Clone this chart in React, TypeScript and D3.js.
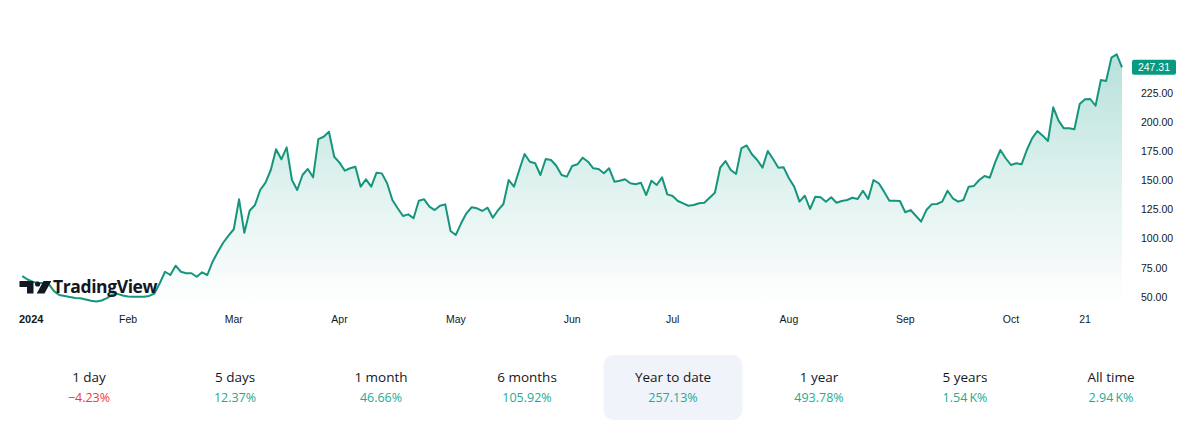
import React from "react";
import * as d3 from "d3";

// Daily closes (trading days)
const jan = [68, 65, 63, 62, 62, 61, 55, 51.7, 50.9, 50, 49.1, 48.9, 47.9, 46.7, 46.1, 47, 49.1, 52.1, 52.7, 51.3];
const feb = [50.4, 50.3, 50.3, 50.3, 50.9, 53, 61.8, 71.7, 68.9, 76.9, 71.7, 70.4, 70.4, 67.4, 71.2, 68.9, 80.3, 88.9, 96.6, 102.7];
const mar = [108.2, 133.9, 105.2, 124.1, 129, 141.9, 148.2, 159.1, 176.9, 168.3, 178.6, 150.5, 141.9, 154.8, 160, 152.8, 185.7, 187.7, 192, 170.5];
const apr = [165.4, 158.5, 160.6, 161.9, 144.8, 151.1, 144.8, 156.8, 156.2, 147.7, 133.3, 126.2, 119.6, 121, 117.6, 132.7, 133.9, 127.6, 124.7, 128.4, 129.6, 106.7];
const may = [103.3, 113.3, 121.9, 127.1, 126.2, 123.9, 126.7, 118.1, 124.7, 129.9, 150.5, 144.8, 159.1, 172.9, 166.2, 164.9, 154.8, 168.6, 167.7, 162.8, 154.8, 153.4];
const jun = [162.5, 164, 169.7, 166.2, 160.6, 160, 156.3, 160.6, 149.1, 149.9, 151.1, 147.7, 146.8, 148.2, 137.6, 149.9, 146.2, 152.8, 138.2];
const jul = [136.8, 132.5, 130.5, 128.4, 129, 130.5, 131, 135.3, 139.6, 161.1, 166.8, 159.1, 155.7, 177.7, 180.2, 172.6, 167.7, 161.1, 175.4, 168.6, 161.1, 161.4];
const aug = [152, 144.8, 131.9, 137, 125.6, 136.2, 135.7, 131.9, 135.7, 131, 132.5, 133.3, 135.3, 134.2, 141.3, 134.2, 150.5, 147.7, 140.5, 132.7, 132.7, 132.5];
const sep = [122.8, 124.7, 119.8, 114.7, 124.7, 129.6, 129.9, 131.9, 141.3, 134.8, 131.9, 133.3, 144.8, 145.4, 150.5, 154, 152.5, 165.7, 176.3, 169.2];
const oct = [163.4, 164.9, 164, 176.3, 186.3, 192.6, 188.6, 184, 213, 201.5, 194.9, 194.9, 194.1, 215.8, 219.8, 220.1, 214.3, 236.4, 235.6, 255.6, 258.5, 247.31];

const closes = [...jan, ...feb, ...mar, ...apr, ...may, ...jun, ...jul, ...aug, ...sep, ...oct];
const lastPrice = 247.31;

// X axis labels and the trading-day index they sit on
const xTickLabels = ["2024", "Feb", "Mar", "Apr", "May", "Jun", "Jul", "Aug", "Sep", "Oct", "21"];
const xTickIndex = [0, 20, 40, 60, 82, 104, 123, 145, 167, 187, 201];

// Price axis ticks
const yTicks = [50, 75, 100, 125, 150, 175, 200, 225];

// Performance panel
const perfLabels = ["1 day", "5 days", "1 month", "6 months", "Year to date", "1 year", "5 years", "All time"];
const perfValues = ["\u22124.23%", "12.37%", "46.66%", "105.92%", "257.13%", "493.78%", "1.54\u2009K%", "2.94\u2009K%"];
const perfPositive = [false, true, true, true, true, true, true, true];
const perfSelected = 4;

const W = 1200;
const H = 435;
const FONT = "'Liberation Sans', Arial, sans-serif";
const UI_FONT = "'Open Sans', 'Noto Sans', sans-serif";
const LINE = "#16957d";
const GREEN_TXT = "#22ab94";
const RED_TXT = "#f23645";
const BADGE = "#089981";
const TEXT = "#131722";

export default function App() {
  const x = d3.scaleLinear().domain([0, closes.length - 1]).range([22.3, 1122]);
  const y = d3.scaleLinear().domain([50, 225]).range([297, 93.3]);
  const baseY = 307;

  const line = d3
    .line<number>()
    .x((_, i) => x(i))
    .y((d) => y(d));
  const area = d3
    .area<number>()
    .x((_, i) => x(i))
    .y0(baseY)
    .y1((d) => y(d));

  const band = d3.scaleBand<string>().domain(perfLabels).range([16, 1184]);
  const fmt = d3.format(".2f");

  return (
    <svg
      width={W}
      height={H}
      viewBox={`0 0 ${W} ${H}`}
      style={{ position: "absolute", left: 0, top: 0, background: "#fff" }}
    >
      <defs>
        <linearGradient id="fillGrad" gradientUnits="userSpaceOnUse" x1="0" y1="50" x2="0" y2={baseY}>
          <stop offset="0" stopColor="#089981" stopOpacity={0.3} />
          <stop offset="0.55" stopColor="#089981" stopOpacity={0.12} />
          <stop offset="1" stopColor="#089981" stopOpacity={0.0} />
        </linearGradient>
      </defs>
      <rect x={0} y={0} width={W} height={H} fill="#fff" />

      <path d={area(closes) || ""} fill="url(#fillGrad)" />
      <path d={line(closes) || ""} fill="none" stroke={LINE} strokeWidth={2} strokeLinejoin="round" />

      {/* TradingView watermark */}
      <g fill={TEXT}>
        <path d="M19.5,281 h14 v12.5 h-6.5 v-6.5 h-7.5 z" />
        <circle cx={37.6} cy={284} r={2.6} />
        <path d="M43.5,281 h7.8 l-6.8,12.5 h-7.8 z" />
        <text x={53} y={292.8} fontFamily="'Open Sans', sans-serif" fontWeight={700} fontSize={17.5} letterSpacing={-0.4}>
          TradingView
        </text>
      </g>

      {/* Price axis */}
      {yTicks.map((t) => (
        <text key={t} x={1141} y={y(t)} dy="0.35em" fontFamily={FONT} fontSize={10.5} fill={TEXT}>
          {fmt(t)}
        </text>
      ))}
      <rect x={1132} y={y(lastPrice) - 7.5} width={44} height={15} rx={2} fill={BADGE} />
      <text x={1154} y={y(lastPrice)} dy="0.35em" textAnchor="middle" fontFamily={FONT} fontSize={10.5} fill="#fff">
        {fmt(lastPrice)}
      </text>

      {/* Time axis */}
      {xTickLabels.map((lab, i) => (
        <text
          key={lab}
          x={i === 0 ? 19 : x(xTickIndex[i])}
          y={319}
          dy="0.35em"
          textAnchor={i === 0 ? "start" : "middle"}
          fontFamily={FONT}
          fontSize={i === 0 ? 11 : 10.5}
          fontWeight={i === 0 ? 700 : 400}
          fill={TEXT}
        >
          {lab}
        </text>
      ))}

      {/* Performance panel */}
      {perfLabels.map((lab, i) => {
        const cx = (band(lab) || 0) + band.bandwidth() / 2;
        return (
          <g key={lab}>
            {i === perfSelected && (
              <rect x={cx - 69.5} y={355} width={139} height={65} rx={10} fill="#f0f3fa" />
            )}
            <text x={cx} y={377} dy="0.35em" textAnchor="middle" fontFamily={UI_FONT} fontSize={13.5} fill={TEXT}>
              {lab}
            </text>
            <text
              x={cx}
              y={398}
              dy="0.35em"
              textAnchor="middle"
              fontFamily={UI_FONT}
              fontSize={12.5}
              fill={perfPositive[i] ? GREEN_TXT : RED_TXT}
            >
              {perfValues[i]}
            </text>
          </g>
        );
      })}
    </svg>
  );
}
